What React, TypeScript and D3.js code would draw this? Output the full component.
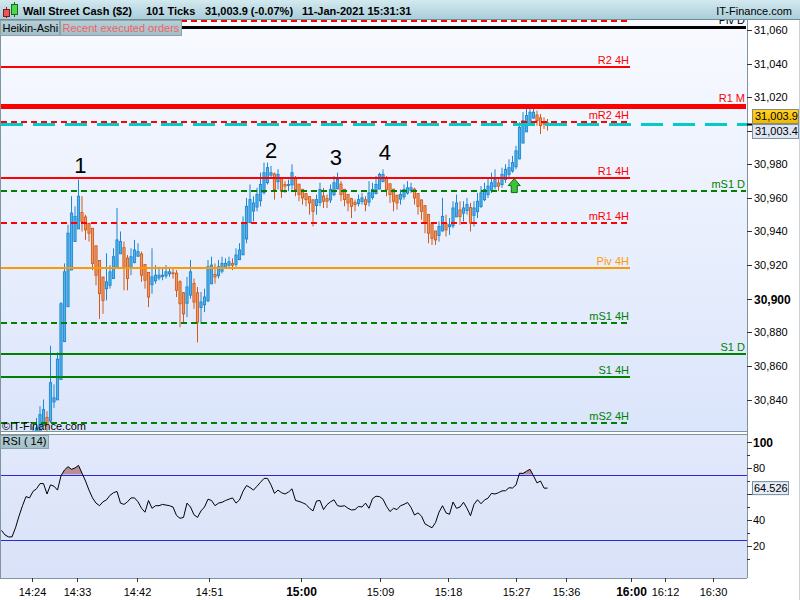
import React, { useEffect, useRef } from 'react';
import * as d3 from 'd3';

// Heikin-Ashi bars (101 ticks each)
const haClose = [
  30806, 30803, 30799, 30796, 30795, 30799, 30804, 30809, 30813, 30818, 30823,
  30831, 30834, 30825, 30850, 30841, 30864, 30897, 30916, 30939, 30951,
  30949, 30961, 30946, 30941, 30939, 30921, 30914, 30903, 30899, 30910,
  30916, 30925, 30935, 30934, 30918, 30912, 30925, 30929, 30928, 30914,
  30911, 30901, 30913, 30914, 30914, 30914, 30916, 30916, 30915, 30905,
  30897, 30891, 30907, 30916, 30898, 30886, 30898, 30901, 30919, 30920,
  30913, 30919, 30921, 30921, 30922, 30920, 30926, 30929, 30945, 30955,
  30959, 30957, 30962, 30968, 30975, 30978, 30975, 30965, 30974, 30964,
  30967, 30968, 30975, 30965, 30962, 30960, 30959, 30957, 30952, 30959,
  30965, 30958, 30958, 30965, 30969, 30971, 30962, 30959, 30957, 30955,
  30956, 30959, 30960, 30956, 30963, 30965, 30968, 30974, 30974, 30965,
  30962, 30958, 30957, 30962, 30965, 30966, 30966, 30960, 30955, 30952,
  30945, 30939, 30936, 30935, 30943, 30949, 30941, 30944, 30954, 30957,
  30949, 30954, 30956, 30945, 30954, 30958, 30963, 30965, 30967, 30969,
  30971, 30967, 30974, 30977, 30978, 30981, 30988, 31002, 31006, 31009,
  31011, 31011, 31006, 31003, 31004, 31003.9,
];
const haHigh = [
  30812, 30809, 30805, 30801, 30800, 30803, 30809, 30814, 30819, 30824, 30829,
  30836, 30840, 30833, 30872, 30849, 30868, 30898, 30921, 30944, 30961,
  30955, 30971, 30961, 30950, 30945, 30940, 30930, 30922, 30913, 30927,
  30920, 30930, 30954, 30940, 30934, 30926, 30930, 30935, 30933, 30928,
  30920, 30915, 30930, 30920, 30919, 30918, 30920, 30919, 30918, 30917,
  30911, 30904, 30913, 30923, 30912, 30907, 30904, 30906, 30923, 30925,
  30921, 30923, 30925, 30924, 30925, 30924, 30930, 30933, 30949, 30960,
  30968, 30961, 30966, 30975, 30981, 30981, 30979, 30975, 30977, 30972,
  30970, 30971, 30980, 30973, 30968, 30964, 30962, 30961, 30958, 30962,
  30969, 30966, 30962, 30968, 30973, 30975, 30970, 30964, 30961, 30960,
  30959, 30962, 30963, 30961, 30970, 30969, 30973, 30975, 30977, 30973,
  30968, 30963, 30961, 30965, 30968, 30970, 30969, 30966, 30962, 30958,
  30954, 30948, 30943, 30940, 30946, 30960, 30950, 30948, 30958, 30962,
  30958, 30958, 30960, 30957, 30958, 30963, 30967, 30969, 30972, 30975,
  30977, 30972, 30978, 30980, 30983, 30985, 30991, 31005, 31011, 31013,
  31014, 31014, 31012, 31010, 31008, 31007,
];
const haLow = [
  30800, 30798, 30794, 30791, 30790, 30794, 30798, 30803, 30807, 30812, 30816,
  30820, 30826, 30821, 30826, 30835, 30840, 30854, 30893, 30912, 30930,
  30940, 30946, 30940, 30935, 30934, 30917, 30908, 30888, 30891, 30899,
  30906, 30912, 30920, 30929, 30905, 30905, 30914, 30921, 30925, 30910,
  30906, 30895, 30903, 30909, 30911, 30911, 30912, 30913, 30912, 30901,
  30883, 30886, 30889, 30900, 30894, 30874, 30885, 30892, 30898, 30912,
  30909, 30912, 30915, 30918, 30919, 30917, 30919, 30923, 30926, 30933,
  30945, 30946, 30952, 30955, 30962, 30968, 30972, 30959, 30965, 30960,
  30963, 30964, 30965, 30961, 30958, 30956, 30955, 30950, 30943, 30950,
  30955, 30954, 30954, 30957, 30961, 30965, 30958, 30955, 30952, 30948,
  30952, 30955, 30956, 30952, 30955, 30959, 30962, 30965, 30970, 30961,
  30957, 30952, 30953, 30956, 30959, 30962, 30963, 30956, 30950, 30947,
  30939, 30933, 30932, 30932, 30934, 30940, 30937, 30938, 30942, 30950,
  30944, 30946, 30950, 30940, 30943, 30948, 30954, 30958, 30960, 30963,
  30965, 30964, 30966, 30969, 30972, 30975, 30977, 30983, 30993, 31000,
  31004, 31007, 31003, 30998, 31001, 31000,
];
const rsi = [
  32, 28.5, 27, 27, 34, 43, 51, 58, 57, 62, 64,
  68, 68, 60, 67, 66, 63, 74, 78.5, 81, 79,
  80, 82, 76, 70, 63, 57, 53, 51, 54, 55.5,
  59, 61, 62, 53, 52, 54, 57, 57, 54, 49,
  46, 55, 49, 51, 51, 52, 51.5, 51, 50, 43.5,
  41.3, 42, 53, 50, 44, 42, 47, 50, 56, 55,
  51, 53, 53.6, 55, 56, 57, 53, 55.4, 62, 66.5,
  65, 63, 66, 69, 72, 72, 67, 60.5, 63, 61,
  60, 61.5, 64, 55, 54.3, 53.3, 52, 49, 47, 54.6,
  55, 48, 51.8, 54, 55.5, 51, 50.5, 51, 49, 47.7,
  48, 50.4, 50, 53, 49, 56.4, 58.3, 58, 56, 50.5,
  46.5, 49, 48, 51, 52, 53.5, 49.7, 43.8, 45.5, 43,
  37, 35.5, 34, 38, 46, 51, 45.5, 44.4, 53.8, 49,
  50, 53.6, 49, 43.3, 52, 55.6, 52.5, 55.4, 56.8, 60.5,
  60, 61, 62.4, 62.5, 64.8, 64.6, 67, 76, 75.8, 77.5,
  79, 74, 68.5, 70, 64.5, 64.526,
];

// pivot levels
const levelNames = ['mR3 4H', 'Piv D', 'R2 4H', 'R1 M', 'mR2 4H', 'R1 4H', 'mS1 D', 'mR1 4H', 'Piv 4H', 'mS1 4H', 'S1 D', 'S1 4H', 'mS2 4H'];
const levelValues = [31065.3, 31061.7, 31038.1, 31014.7, 31005.4, 30972.0, 30964.3, 30945.1, 30918.5, 30885.7, 30867.3, 30853.2, 30825.8];

const lastPrice = 31003.9;
const bidPrice = 31003.4;
const priceTicks = [30840, 30860, 30880, 30900, 30920, 30940, 30960, 30980, 31000, 31020, 31040, 31060];
const rsiTicks = [20, 40, 60, 80, 100];
const rsiMinor = [10, 30, 50, 70, 90];
const rsiBands = [25, 75];
const overbought = 75;

// time labels sit at (fractional) bar positions
const timeLabels = ['14:24', '14:33', '14:42', '14:51', '15:00', '15:09', '15:18', '15:27', '15:36', '16:00', '16:12', '16:30'];
const timeTickBar = [8.8, 21.5, 38.6, 59.4, 85.5, 108.1, 127.7, 146.9, 161.2, 179.8, 189.6, 203.4];

// wave count markers: bar, price of label baseline
const waveLabels = ['1', '2', '3', '4'];
const waveBars = [22.5, 77, 95.5, 109.5];
const waveValues = [30974.9, 30983.8, 30979.6, 30982.6];

const orderBar = 146.5;
const orderPrice = 30971.5;

const FONT = '"Liberation Sans", Arial, Helvetica, sans-serif';

const App: React.FC = () => {
  const svgRef = useRef<SVGSVGElement>(null);

  useEffect(() => {
    if (!svgRef.current) return;
    const svg = d3.select(svgRef.current);
    svg.selectAll('*').remove();

    const plotR = 747;
    const mainT = 20, mainB = 431;
    const rsiT = 435, rsiB = 578;

    const x = d3.scaleLinear().domain([0, haClose.length - 1]).range([1.5, 547.5]);
    const y = d3.scaleLinear().domain([30900, 31060]).range([298.7, 29.9]);
    const yr = d3.scaleLinear().domain([20, 100]).range([546, 442]);

    const defs = svg.append('defs');
    const grad = (id: string, c1: string, c2: string) => {
      const g = defs.append('linearGradient').attr('id', id).attr('x1', 0).attr('y1', 0).attr('x2', 0).attr('y2', 1);
      g.append('stop').attr('offset', '0%').attr('stop-color', c1);
      g.append('stop').attr('offset', '100%').attr('stop-color', c2);
    };
    grad('mainBg', '#f8faff', '#dbe5fb');
    grad('rsiBg', '#e3e9fb', '#d9e2f8');
    grad('titleBg', '#d3e9f0', '#a8ccd8');
    grad('boxBg', '#b7cfd6', '#a2bec7');
    grad('goldBg', '#ffd428', '#f0b800');

    defs.append('clipPath').attr('id', 'mainClip')
      .append('rect').attr('x', 1).attr('y', mainT).attr('width', plotR - 1).attr('height', mainB - mainT);
    defs.append('clipPath').attr('id', 'rsiClip')
      .append('rect').attr('x', 1).attr('y', rsiT).attr('width', plotR - 1).attr('height', rsiB - rsiT);

    svg.append('rect').attr('width', 800).attr('height', 600).attr('fill', '#ffffff');
    svg.append('rect').attr('x', 1).attr('y', mainT).attr('width', plotR - 1).attr('height', mainB - mainT).attr('fill', 'url(#mainBg)');
    svg.append('rect').attr('x', 1).attr('y', rsiT).attr('width', plotR - 1).attr('height', rsiB - rsiT).attr('fill', 'url(#rsiBg)');

    // Heikin-Ashi candles
    const opens: number[] = [];
    haClose.forEach((c, i) => {
      opens.push(i === 0 ? (haHigh[0] + haLow[0]) / 2 : (opens[i - 1] + haClose[i - 1]) / 2);
    });
    const up = (i: number) => haClose[i] >= opens[i];
    const cg = svg.append('g').attr('clip-path', 'url(#mainClip)');
    const idx = d3.range(haClose.length);
    cg.selectAll('line.wick').data(idx).join('line')
      .attr('x1', i => x(i)).attr('x2', i => x(i))
      .attr('y1', i => y(Math.max(haHigh[i], opens[i], haClose[i])))
      .attr('y2', i => y(Math.min(haLow[i], opens[i], haClose[i])))
      .attr('stroke', i => (up(i) ? '#1f86cf' : '#d05a1c'))
      .attr('stroke-width', 1);
    cg.selectAll('rect.body').data(idx).join('rect')
      .attr('x', i => x(i) - 1.1)
      .attr('width', 2.2)
      .attr('y', i => y(Math.max(opens[i], haClose[i])))
      .attr('height', i => Math.max(0.8, Math.abs(y(opens[i]) - y(haClose[i]))))
      .attr('fill', i => (up(i) ? '#50b4ec' : '#f39a5e'))
      .attr('stroke', i => (up(i) ? '#1f86cf' : '#d05a1c'))
      .attr('stroke-width', 0.9);

    // pivot levels
    const lg = svg.append('g').attr('clip-path', 'url(#mainClip)');
    levelNames.forEach((name, k) => {
      const [base, tf] = name.split(' ');
      const key = base.replace(/^m/, '');
      const color = key === 'Piv' ? (tf === 'D' ? '#000000' : '#ff9900') : key.startsWith('R') ? '#ff0000' : '#008000';
      const width = tf === 'M' ? 5 : name === 'Piv D' ? 3 : 2;
      const x2 = tf === '4H' ? 630 : 746;
      const ly = Math.round(y(levelValues[k])) + (width % 2 ? 0.5 : 0);
      lg.append('line')
        .attr('x1', 1).attr('x2', x2).attr('y1', ly).attr('y2', ly)
        .attr('stroke', color).attr('stroke-width', width)
        .attr('stroke-dasharray', base.startsWith('m') ? '6,4' : null);
      lg.append('text')
        .attr('x', tf === '4H' ? 629 : 745).attr('y', ly - width / 2 - 2)
        .attr('text-anchor', 'end').attr('font-size', 11).attr('fill', color)
        .text(name);
    });

    // current price line
    const py = Math.round(y(lastPrice)) + 0.5;
    lg.append('line').attr('x1', 1).attr('x2', plotR).attr('y1', py).attr('y2', py)
      .attr('stroke', '#00cccc').attr('stroke-width', 3).attr('stroke-dasharray', '22,10');

    // wave count
    waveLabels.forEach((t, k) => {
      lg.append('text').attr('x', x(waveBars[k])).attr('y', y(waveValues[k]))
        .attr('text-anchor', 'middle').attr('font-size', 22).attr('fill', '#000').text(t);
    });

    // executed order arrow
    const ax = x(orderBar), ay = y(orderPrice);
    lg.append('path')
      .attr('d', `M${ax},${ay} L${ax + 6},${ay + 7} L${ax + 3},${ay + 7} L${ax + 3},${ay + 14} L${ax - 3},${ay + 14} L${ax - 3},${ay + 7} L${ax - 6},${ay + 7} Z`)
      .attr('fill', '#3cc43c').attr('stroke', '#0b6e0b').attr('stroke-width', 1);

    // copyright
    svg.append('text').attr('x', 2).attr('y', 429.5).attr('font-size', 11).attr('fill', '#000').text('©IT-Finance.com');

    // RSI panel: overbought fill only where the line is above the band
    const rg = svg.append('g').attr('clip-path', 'url(#rsiClip)');
    const polys: [number, number][][] = [];
    let cur: [number, number][] | null = null;
    rsi.forEach((v, i) => {
      if (v > overbought) {
        if (!cur) {
          const xi = i > 0 ? i - 1 + (overbought - rsi[i - 1]) / (v - rsi[i - 1]) : i;
          cur = [[xi, overbought]];
        }
        cur.push([i, v]);
      } else if (cur) {
        const xi = i - 1 + (rsi[i - 1] - overbought) / (rsi[i - 1] - v);
        cur.push([xi, overbought]);
        polys.push(cur);
        cur = null;
      }
    });
    if (cur) {
      (cur as [number, number][]).push([rsi.length - 1, overbought]);
      polys.push(cur);
    }
    const obLine = d3.line<[number, number]>().x(d => x(d[0])).y(d => yr(d[1]));
    polys.forEach(p => {
      rg.append('path').attr('d', obLine(p) + 'Z').attr('fill', '#b88f98');
    });
    rsiBands.forEach(b => {
      const by = Math.round(yr(b)) + 0.5;
      rg.append('line').attr('x1', 1).attr('x2', plotR).attr('y1', by).attr('y2', by)
        .attr('stroke', '#2a2ad8').attr('stroke-width', 1);
    });
    const rl = d3.line<number>().x((_, i) => x(i)).y(d => yr(d));
    rg.append('path').datum(rsi).attr('d', rl).attr('fill', 'none').attr('stroke', '#000').attr('stroke-width', 1);

    // panel borders
    const border = '#7f959e';
    svg.append('line').attr('x1', 0.5).attr('x2', 0.5).attr('y1', mainT).attr('y2', rsiB).attr('stroke', border);
    svg.append('line').attr('x1', plotR + 0.5).attr('x2', plotR + 0.5).attr('y1', mainT).attr('y2', rsiB).attr('stroke', border);
    [mainB + 0.5, rsiT - 0.5, rsiB + 0.5].forEach(yy => {
      svg.append('line').attr('x1', 0).attr('x2', plotR).attr('y1', yy).attr('y2', yy).attr('stroke', border);
    });
    svg.append('line').attr('x1', 799.5).attr('x2', 799.5).attr('y1', 20).attr('y2', 600).attr('stroke', '#c9d3d8');

    // price axis (labels under the price boxes are hidden, as in the terminal)
    const pa = svg.append('g');
    priceTicks.forEach(v => {
      const ty = Math.round(y(v)) + 0.5;
      pa.append('line').attr('x1', plotR).attr('x2', plotR + 5).attr('y1', ty).attr('y2', ty).attr('stroke', '#333');
      if (Math.abs(ty - py) < 16) return;
      pa.append('text').attr('x', 754).attr('y', ty).attr('dy', '0.35em').attr('font-size', v === 30900 ? 12 : 11)
        .attr('font-weight', v === 30900 ? 'bold' : 'normal').attr('fill', '#000').text(d3.format(',')(v));
    });
    pa.append('line').attr('x1', plotR).attr('x2', plotR + 5).attr('y1', py).attr('y2', py).attr('stroke', '#000').attr('stroke-width', 2);
    pa.append('rect').attr('x', 752.5).attr('y', py - 15).attr('width', 46).attr('height', 14)
      .attr('fill', 'url(#goldBg)').attr('stroke', '#8c8a70');
    pa.append('text').attr('x', 755).attr('y', py - 8).attr('dy', '0.35em').attr('font-size', 11).text(d3.format(',.1f')(lastPrice));
    pa.append('rect').attr('x', 752.5).attr('y', py).attr('width', 46).attr('height', 14)
      .attr('fill', '#dfe6f2').attr('stroke', '#7a93a0');
    pa.append('text').attr('x', 755).attr('y', py + 7).attr('dy', '0.35em').attr('font-size', 11).text(d3.format(',.1f')(bidPrice));

    // rsi axis
    const lastRsi = rsi[rsi.length - 1];
    const ry = yr(lastRsi);
    rsiMinor.forEach(v => {
      const ty = Math.round(yr(v)) + 0.5;
      pa.append('line').attr('x1', plotR).attr('x2', plotR + 3).attr('y1', ty).attr('y2', ty).attr('stroke', '#333');
    });
    rsiTicks.forEach(v => {
      const ty = Math.round(yr(v)) + 0.5;
      pa.append('line').attr('x1', plotR).attr('x2', plotR + 5).attr('y1', ty).attr('y2', ty).attr('stroke', '#333');
      if (Math.abs(ty - ry) < 10) return;
      pa.append('text').attr('x', 753).attr('y', ty).attr('dy', '0.35em').attr('font-size', v === 100 ? 12 : 11)
        .attr('font-weight', v === 100 ? 'bold' : 'normal').text(v);
    });
    pa.append('rect').attr('x', 752.5).attr('y', ry - 6.5).attr('width', 36).attr('height', 13)
      .attr('fill', '#e6edf8').attr('stroke', '#6f8c99');
    pa.append('text').attr('x', 754).attr('y', ry).attr('dy', '0.35em').attr('font-size', 11).text(d3.format('.3f')(lastRsi));

    // time axis
    timeLabels.forEach((t, k) => {
      const tx = Math.round(x(timeTickBar[k])) + 0.5;
      const bold = t.endsWith(':00');
      pa.append('line').attr('x1', tx).attr('x2', tx).attr('y1', rsiB).attr('y2', rsiB + 4).attr('stroke', '#333');
      pa.append('text').attr('x', tx).attr('y', 595.5).attr('text-anchor', 'middle')
        .attr('font-size', bold ? 12 : 11).attr('font-weight', bold ? 'bold' : 'normal').text(t);
    });

    // labels boxes
    const box = (bx: number, by: number, w: number, h: number, t: string, color: string) => {
      svg.append('rect').attr('x', bx + 0.5).attr('y', by + 0.5).attr('width', w).attr('height', h)
        .attr('fill', 'url(#boxBg)').attr('stroke', '#8aa4ad');
      svg.append('text').attr('x', bx + 2.5).attr('y', by + h - 3).attr('font-size', 11).attr('fill', color).text(t);
    };
    box(0, 20, 59, 15, 'Heikin-Ashi', '#000');
    box(60, 20, 121, 15, 'Recent executed orders', '#f06464');
    box(0, 435, 48, 13, 'RSI ( 14)', '#000');

    // title bar
    svg.append('rect').attr('x', 0).attr('y', 0).attr('width', 800).attr('height', 20).attr('fill', 'url(#titleBg)');
    svg.append('line').attr('x1', 0).attr('x2', 800).attr('y1', 19.5).attr('y2', 19.5).attr('stroke', '#6f8d98');
    const ic = svg.append('g');
    ic.append('line').attr('x1', 6.5).attr('x2', 6.5).attr('y1', 7).attr('y2', 18).attr('stroke', '#7a1a1a');
    ic.append('rect').attr('x', 3.5).attr('y', 9.5).attr('width', 6).attr('height', 7).attr('fill', '#e25a5a').attr('stroke', '#7a1a1a');
    ic.append('line').attr('x1', 14.5).attr('x2', 14.5).attr('y1', 2).attr('y2', 17).attr('stroke', '#1a6a1a');
    ic.append('rect').attr('x', 11.5).attr('y', 4.5).attr('width', 6).attr('height', 10).attr('fill', '#4cd84c').attr('stroke', '#1a6a1a');
    const tt = svg.append('g').attr('font-size', 11).attr('font-weight', 'bold').attr('fill', '#000');
    tt.append('text').attr('x', 23).attr('y', 15).text('Wall Street Cash ($2)');
    tt.append('text').attr('x', 146).attr('y', 15).text('101 Ticks');
    tt.append('text').attr('x', 205).attr('y', 15).text('31,003.9 (-0.07%)');
    tt.append('text').attr('x', 302).attr('y', 15).text('11-Jan-2021 15:31:31');
    tt.append('text').attr('x', 792).attr('y', 15).attr('text-anchor', 'end').attr('font-weight', 'normal').text('IT-Finance.com');
  }, []);

  return (
    <svg
      ref={svgRef}
      width={800}
      height={600}
      style={{ position: 'absolute', left: 0, top: 0, display: 'block', fontFamily: FONT }}
    />
  );
};

export default App;
